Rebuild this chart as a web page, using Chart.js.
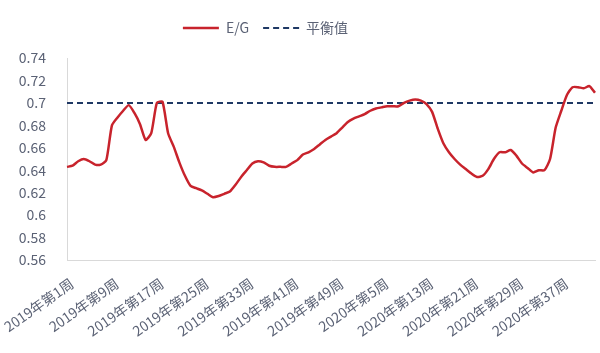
<!DOCTYPE html>
<html>
<head>
<meta charset="utf-8">
<script src="https://cdn.jsdelivr.net/npm/chart.js@4.4.1/dist/chart.umd.min.js"></script>
<style>
  html, body { margin: 0; padding: 0; background: #fff; }
  #wrap { width: 600px; height: 353px; }
</style>
</head>
<body>
<div id="wrap"><canvas id="chart"></canvas></div>
<script>
// weekly categories: 2019 wk1..52, then 2020 wk1..43
const years = [2019, 2020]
const weeksPerYear = [52, 43]
const weeks = []
years.forEach((yr, k) => {
  for (let w = 1; w <= weeksPerYear[k]; w++) weeks.push(yr + "年第" + w + "周")
})

// E/G ratio, one value per week
const egValues = [
  0.643, 0.644, 0.648, 0.650, 0.648, 0.645, 0.645, 0.649, 0.680, 0.687,
  0.693, 0.698, 0.691, 0.681, 0.667, 0.673, 0.700, 0.701, 0.673, 0.661,
  0.647, 0.635, 0.626, 0.624, 0.622, 0.619, 0.616, 0.617, 0.619, 0.621,
  0.627, 0.634, 0.640, 0.646, 0.648, 0.647, 0.644, 0.643, 0.643, 0.643,
  0.646, 0.649, 0.654, 0.656, 0.659, 0.663, 0.667, 0.670, 0.673, 0.678,
  0.683, 0.686, 0.688, 0.690, 0.693, 0.695, 0.696, 0.697, 0.697, 0.697,
  0.700, 0.702, 0.703, 0.702, 0.699, 0.692, 0.677, 0.664, 0.656, 0.650,
  0.645, 0.641, 0.637, 0.634, 0.635, 0.641, 0.650, 0.656, 0.656, 0.658,
  0.653, 0.646, 0.642, 0.638, 0.640, 0.640, 0.650, 0.678, 0.693, 0.707,
  0.714, 0.714, 0.713, 0.715, 0.709
]

const balanceValue = 0.7
const yTicks = [0.56, 0.58, 0.6, 0.62, 0.64, 0.66, 0.68, 0.7, 0.72, 0.74]
const labelEvery = 8

const FONT = "'Noto Sans CJK SC', 'Noto Sans', sans-serif"
const TEXT = "#5b6275"

// legend sits a bit left of centre and higher than the reserved top space
const legendShift = {
  id: "legendShift",
  afterLayout(chart) {
    const lg = chart.legend
    lg.right -= 64
    lg.top -= 13
    lg.bottom -= 13
  }
}

new Chart(document.getElementById("chart"), {
  type: "line",
  data: {
    labels: weeks,
    datasets: [
      {
        label: "E/G",
        data: egValues,
        borderColor: "#c8232c",
        borderWidth: 2.5,
        pointRadius: 0,
        pointStyle: "line",
        tension: 0.2
      },
      {
        label: "平衡值",
        data: [
          { x: weeks[0], y: balanceValue },
          { x: weeks[weeks.length - 1], y: balanceValue }
        ],
        borderColor: "#1f3864",
        borderWidth: 2,
        borderDash: [6, 4],
        pointRadius: 0,
        pointStyle: "line"
      }
    ]
  },
  options: {
    responsive: true,
    maintainAspectRatio: false,
    animation: false,
    layout: { padding: { top: 20, right: 5, left: 0, bottom: 0 } },
    plugins: {
      legend: {
        position: "top",
        labels: {
          usePointStyle: true,
          pointStyleWidth: 36,
          padding: 14,
          color: TEXT,
          font: { family: FONT, size: 14 },
          // carry the dash pattern into the legend sample
          generateLabels: (chart) =>
            Chart.defaults.plugins.legend.labels.generateLabels(chart).map(item => {
              const ds = chart.data.datasets[item.datasetIndex]
              item.lineDash = ds.borderDash || []
              item.lineWidth = ds.borderWidth
              item.strokeStyle = ds.borderColor
              return item
            })
        }
      },
      tooltip: { enabled: false }
    },
    scales: {
      x: {
        grid: { display: false, drawTicks: false },
        border: { display: true, color: "#d9d9d9" },
        afterFit: (scale) => {
          scale.height = 93
          scale.paddingLeft = 0
          scale.paddingRight = 0
        },
        ticks: {
          autoSkip: false,
          minRotation: 35,
          maxRotation: 35,
          padding: 15,
          labelOffset: 5,
          color: TEXT,
          font: { family: FONT, size: 14 },
          callback: (value, i) => (i % labelEvery === 0 ? weeks[i] : "")
        }
      },
      y: {
        min: 0.56,
        max: 0.74,
        afterFit: (scale) => { scale.width = 67 },
        afterBuildTicks: (scale) => { scale.ticks = yTicks.map(v => ({ value: v })) },
        grid: { display: false, drawTicks: false },
        border: { display: true, color: "#d9d9d9" },
        ticks: {
          padding: 21,
          color: TEXT,
          font: { family: FONT, size: 14 },
          callback: (value) => String(Number(value.toFixed(2)))
        }
      }
    }
  },
  plugins: [legendShift]
})
</script>
</body>
</html>
